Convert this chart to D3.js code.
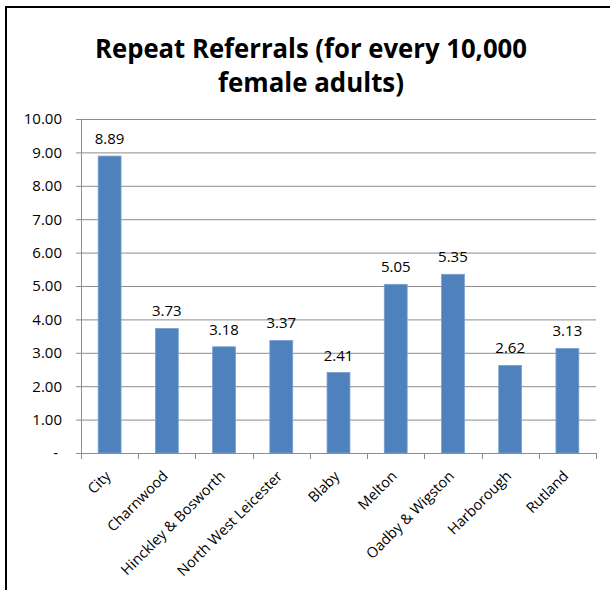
<!DOCTYPE html>
<html>
<head>
<meta charset="utf-8">
<script src="https://cdn.jsdelivr.net/npm/d3@7"></script>
<style>
  body { margin: 0; background: #fff; }
  svg { display: block; }
</style>
</head>
<body>
<div class="chart"></div>
<script>
'use strict';
var areas = ['City', 'Charnwood', 'Hinckley & Bosworth', 'North West Leicester', 'Blaby',
  'Melton', 'Oadby & Wigston', 'Harborough', 'Rutland'];
var referrals = [8.89, 3.73, 3.18, 3.37, 2.41, 5.05, 5.35, 2.62, 3.13];
var yTicks = [0, 1, 2, 3, 4, 5, 6, 7, 8, 9, 10];
var titleLines = ['Repeat Referrals (for every 10,000', 'female adults)'];

var W = 610, H = 590;
var margin = {top: 119, right: 14, bottom: 137, left: 81},
  width = W - margin.left - margin.right,
  height = H - margin.top - margin.bottom;

var svg = d3.select('.chart').append('svg')
  .attr('width', W)
  .attr('height', H);

// chart frame (cropped on the right and bottom)
svg.append('rect')
  .attr('x', 6).attr('y', 7)
  .attr('width', W + 20).attr('height', H + 20)
  .attr('fill', 'none')
  .attr('stroke', '#000')
  .attr('stroke-width', 2);

var title = svg.append('g')
  .attr('font-family', 'Open Sans, sans-serif')
  .attr('font-weight', 'bold')
  .attr('font-size', '26px')
  .attr('fill', '#000')
  .attr('text-anchor', 'middle');
title.selectAll('text')
  .data(titleLines)
  .enter().append('text')
  .attr('x', 311)
  .attr('y', function(d, i) { return 58 + i * 34; })
  .attr('textLength', function(d, i) { return i === 0 ? 432 : 186; })
  .attr('lengthAdjust', 'spacingAndGlyphs')
  .text(function(d) { return d; });

var g = svg.append('g')
  .attr('transform', 'translate(' + margin.left + ',' + margin.top + ')');

var x = d3.scaleBand()
  .domain(areas)
  .range([0, width])
  .paddingInner(0.6)
  .paddingOuter(0.3);

var band = d3.scaleBand().domain(areas).range([0, width]);

var y = d3.scaleLinear()
  .domain([0, 10])
  .range([height, 0]);

// gridlines
g.append('g')
  .selectAll('line')
  .data(yTicks.slice(1))
  .enter().append('line')
  .attr('x1', 0).attr('x2', width)
  .attr('y1', function(d) { return y(d) + 0.5; })
  .attr('y2', function(d) { return y(d) + 0.5; })
  .attr('stroke', '#8c8c8c')
  .attr('stroke-width', 1);

// y axis
var yAxis = g.append('g')
  .call(d3.axisLeft(y)
    .tickValues(yTicks)
    .tickSize(5)
    .tickPadding(14)
    .tickFormat(function(d) { return d === 0 ? '-' : d3.format('.2f')(d); }));
yAxis.select('.domain').attr('stroke', '#8c8c8c').attr('d', 'M0.5,0V' + height);
yAxis.selectAll('.tick line').attr('stroke', '#8c8c8c');
yAxis.selectAll('text')
  .attr('font-family', 'Open Sans, sans-serif')
  .attr('font-size', '15px')
  .attr('fill', '#000');
yAxis.selectAll('.tick').filter(function(d) { return d === 0; }).select('text')
  .attr('dx', '-4px');

// bars
g.selectAll('.bar')
  .data(areas)
  .enter().append('rect')
  .attr('class', 'bar')
  .attr('x', function(d) { return x(d); })
  .attr('width', x.bandwidth())
  .attr('y', function(d, i) { return y(referrals[i]); })
  .attr('height', function(d, i) { return height - y(referrals[i]); })
  .attr('fill', '#4f81bd')
  .attr('stroke', '#7aa0d0')
  .attr('stroke-width', 0.8);

// data labels
g.selectAll('.value')
  .data(areas)
  .enter().append('text')
  .attr('class', 'value')
  .attr('x', function(d) { return x(d) + x.bandwidth() / 2; })
  .attr('y', function(d, i) { return y(referrals[i]) - 12; })
  .attr('text-anchor', 'middle')
  .attr('font-family', 'Open Sans, sans-serif')
  .attr('font-size', '15px')
  .attr('fill', '#000')
  .text(function(d, i) { return referrals[i].toFixed(2); });

// x axis
var xAxisG = g.append('g')
  .attr('transform', 'translate(0,' + height + ')');
xAxisG.append('line')
  .attr('x1', 0).attr('x2', width)
  .attr('y1', 0.5).attr('y2', 0.5)
  .attr('stroke', '#8c8c8c');
xAxisG.selectAll('.xtick')
  .data(d3.range(areas.length + 1))
  .enter().append('line')
  .attr('x1', function(i) { return Math.round(i * band.step()) + 0.5; })
  .attr('x2', function(i) { return Math.round(i * band.step()) + 0.5; })
  .attr('y1', 0).attr('y2', 6)
  .attr('stroke', '#8c8c8c');
xAxisG.selectAll('.xlabel')
  .data(areas)
  .enter().append('text')
  .attr('class', 'xlabel')
  .attr('transform', function(d) {
    return 'translate(' + (band(d) + band.bandwidth() / 2 + 2) + ',24) rotate(-45)';
  })
  .attr('text-anchor', 'end')
  .attr('font-family', 'Open Sans, sans-serif')
  .attr('font-size', '14.5px')
  .attr('fill', '#000')
  .text(function(d) { return d; });
</script>
</body>
</html>
